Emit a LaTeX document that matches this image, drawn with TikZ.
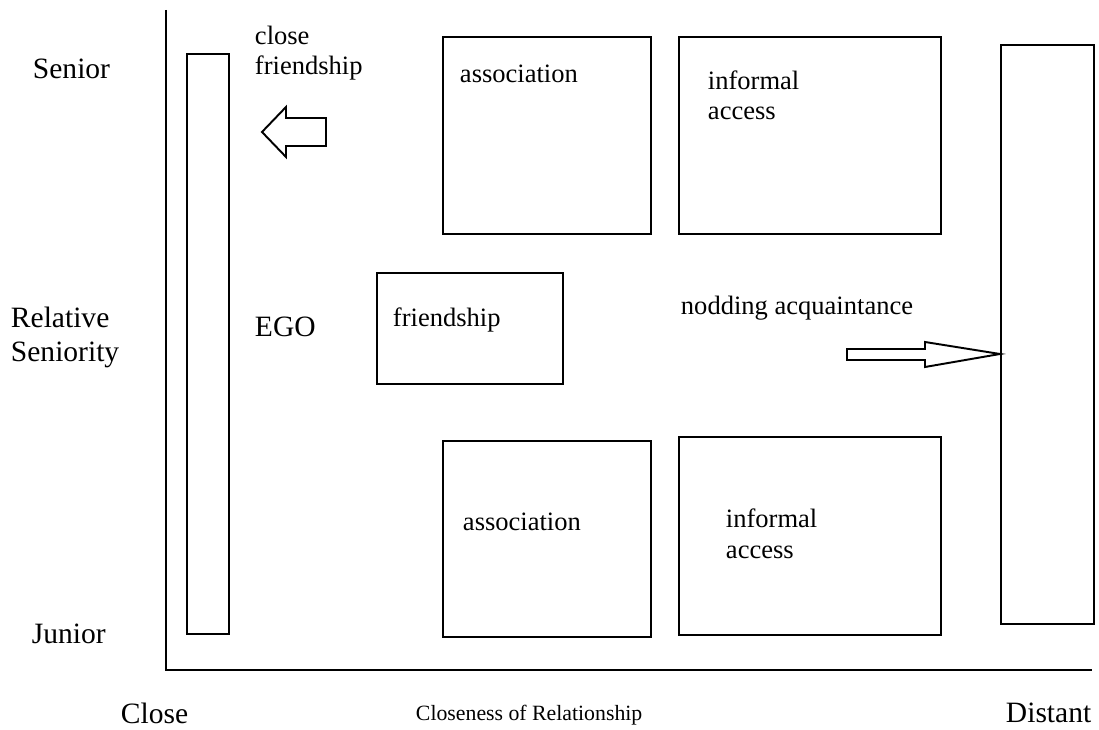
\documentclass[tikz,border=0pt]{standalone}
\usepackage{fontspec}
\setmainfont{Liberation Serif}
\newcommand{\gross}{\fontsize{16.8pt}{19.9pt}\selectfont}
\newcommand{\mittel}{\fontsize{15.1pt}{17.1pt}\selectfont}
\newcommand{\klein}{\fontsize{12.4pt}{14pt}\selectfont}

\begin{document}
\begin{tikzpicture}[line width=1.1pt,
  feld/.style={draw,anchor=north west,inner sep=0pt},
  achse/.style={anchor=base west,inner sep=0pt,font=\gross,align=left},
  beschr/.style={anchor=base west,inner sep=0pt,font=\mittel,align=left}]
  \useasboundingbox (0,0) rectangle (21.98,14.58);
  % Achsen
  \coordinate (y-ende) at (3.32,14.38);
  \coordinate (ursprung) at (3.32,1.18);
  \coordinate (x-ende) at (21.84,1.18);
  \draw (y-ende) -- (ursprung) -- (x-ende);
  % Balken links (EGO) und rechts (distant)
  \node[feld,minimum width=.84cm,minimum height=11.6cm] (ego-balken) at (3.72,13.52) {};
  \node[feld,minimum width=1.86cm,minimum height=11.58cm] (fern-balken) at (20.0,13.70) {};
  % Felder
  \node[feld,minimum width=4.16cm,minimum height=3.94cm] (assoc-oben) at (8.84,13.86) {};
  \node[feld,minimum width=5.24cm,minimum height=3.94cm] (info-oben) at (13.56,13.86) {};
  \node[feld,minimum width=3.72cm,minimum height=2.22cm] (freund) at (7.52,9.14) {};
  \node[feld,minimum width=4.16cm,minimum height=3.92cm] (assoc-unten) at (8.84,5.78) {};
  \node[feld,minimum width=5.24cm,minimum height=3.96cm] (info-unten) at (13.56,5.86) {};
  % Pfeil links
  \draw (5.24,11.94) -- (5.72,12.44) -- (5.72,12.22) -- (6.52,12.22)
  -- (6.52,11.66) -- (5.72,11.66) -- (5.72,11.44) -- cycle;
  % Pfeil rechts
  \coordinate (spitze) at (fern-balken.west |- 0,7.50);
  \draw (16.94,7.60) -- (18.5,7.60) -- (18.5,7.74) -- (spitze)
  -- (18.5,7.24) -- (18.5,7.38) -- (16.94,7.38) -- cycle;
  % Beschriftungen (base = letzte Zeile)
  \node[beschr] (t-assoc-oben) at (9.18,12.92) {association};
  \node[beschr] (t-info-oben) at (14.14,12.18) {informal\\access};
  \node[beschr] (t-freund) at (7.84,8.04) {friendship};
  \node[beschr] (t-nicken) at (13.6,8.28) {nodding acquaintance};
  \node[beschr] (t-assoc-unten) at (9.24,3.96) {association};
  \node[beschr] (t-info-unten) at (14.5,3.42) {informal\\access};
  \node[beschr] (t-eng) at (5.08,13.08) {close\\friendship};
  \node[achse] (t-ego) at (5.08,7.84) {EGO};
  \node[achse] (t-senior) at (0.64,13.0) {Senior};
  \node[achse] (t-rel) at (0.2,7.34) {Relative\\Seniority};
  \node[achse] (t-junior) at (0.62,1.72) {Junior};
  \node[achse] (t-close) at (2.4,0.12) {Close};
  \node[achse,font=\klein] (t-titel) at (8.3,0.18) {Closeness of Relationship};
  \node[achse] (t-distant) at (20.1,0.14) {Distant};
\end{tikzpicture}
\end{document}
